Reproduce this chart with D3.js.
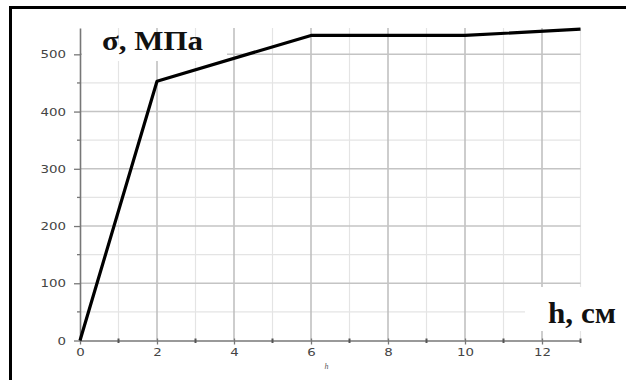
<!DOCTYPE html>
<html>
<head>
<meta charset="utf-8">
<script src="https://cdn.jsdelivr.net/npm/d3@7"></script>
<style>
  body { margin: 0; background: #fff; }
  svg { display: block; }
</style>
</head>
<body>
<div id="chart_container"></div>
<script>
// chart values
const H_VALUES = [0, 2, 6, 10, 13];
const SIGMA_VALUES = [0, 453, 533, 533, 544];
const X_TICKS = [0, 2, 4, 6, 8, 10, 12];
const X_MINOR = [1, 3, 5, 7, 9, 11, 13];
const Y_TICKS = [0, 100, 200, 300, 400, 500];
const Y_MINOR = [50, 150, 250, 350, 450];

const WIDTH = 626;
const HEIGHT = 380;

const svg = d3
  .select("#chart_container")
  .append("svg")
  .attr("width", WIDTH)
  .attr("height", HEIGHT);

const x = d3.scaleLinear().domain([0, 13]).range([80, 580.5]);
const y = d3.scaleLinear().domain([0, 546]).range([340.5, 28]);

// grid, minor first then major
const grid = svg.append("g");
grid
  .selectAll(".vminor")
  .data(X_MINOR)
  .enter()
  .append("line")
  .attr("x1", (d) => x(d))
  .attr("x2", (d) => x(d))
  .attr("y1", y(0))
  .attr("y2", y(546))
  .attr("stroke", "#e4e4e4")
  .attr("stroke-width", 1.2);
grid
  .selectAll(".hminor")
  .data(Y_MINOR)
  .enter()
  .append("line")
  .attr("x1", x(0))
  .attr("x2", x(13))
  .attr("y1", (d) => y(d))
  .attr("y2", (d) => y(d))
  .attr("stroke", "#e4e4e4")
  .attr("stroke-width", 1.2);
grid
  .selectAll(".vmajor")
  .data(X_TICKS.slice(1))
  .enter()
  .append("line")
  .attr("x1", (d) => x(d))
  .attr("x2", (d) => x(d))
  .attr("y1", y(0))
  .attr("y2", y(546))
  .attr("stroke", "#bcbcbc")
  .attr("stroke-width", 1.5);
grid
  .selectAll(".hmajor")
  .data(Y_TICKS.slice(1))
  .enter()
  .append("line")
  .attr("x1", x(0))
  .attr("x2", x(13))
  .attr("y1", (d) => y(d))
  .attr("y2", (d) => y(d))
  .attr("stroke", "#c4c4c4")
  .attr("stroke-width", 1.5);

// axes
const xAxis = svg
  .append("g")
  .attr("transform", `translate(0,${y(0)})`)
  .call(d3.axisBottom(x).tickValues(X_TICKS).tickSize(4).tickSizeOuter(0));
const yAxis = svg
  .append("g")
  .attr("transform", `translate(${x(0)},0)`)
  .call(d3.axisLeft(y).tickValues(Y_TICKS).tickSize(6).tickSizeOuter(0));

[xAxis, yAxis].forEach((ax) => {
  ax.select(".domain").attr("stroke", "#777").attr("stroke-width", 1.6);
  ax.selectAll(".tick line").attr("stroke", "#777").attr("stroke-width", 1.3);
  ax.selectAll(".tick text")
    .attr("fill", "#444")
    .style("font-family", "DejaVu Sans")
    .style("font-size", "11px")
    .attr("lengthAdjust", "spacingAndGlyphs")
    .attr("textLength", (d) => String(d).length * 8.5);
});
xAxis.selectAll(".tick line").attr("y1", -2);
xAxis.selectAll(".tick text").attr("y", 8);
yAxis.selectAll(".tick text").attr("x", -14);

// minor ticks
svg
  .append("g")
  .selectAll("line")
  .data(X_MINOR)
  .enter()
  .append("line")
  .attr("x1", (d) => x(d))
  .attr("x2", (d) => x(d))
  .attr("y1", y(0) - 2)
  .attr("y2", y(0) + 2.5)
  .attr("stroke", "#555")
  .attr("stroke-width", 2);
svg
  .append("g")
  .selectAll("line")
  .data(Y_MINOR)
  .enter()
  .append("line")
  .attr("x1", x(0) - 3)
  .attr("x2", x(0) + 1)
  .attr("y1", (d) => y(d))
  .attr("y2", (d) => y(d))
  .attr("stroke", "#777")
  .attr("stroke-width", 1.3);

// tiny axis name under the ticks
svg
  .append("text")
  .attr("x", x(6.4))
  .attr("y", 369)
  .attr("text-anchor", "middle")
  .style("font-family", "Liberation Serif")
  .style("font-style", "italic")
  .style("font-size", "8px")
  .attr("fill", "#555")
  .text("h");

// labels with white patches behind them
svg.append("rect")
  .attr("x", 82).attr("y", 45).attr("width", 145).attr("height", 16)
  .attr("fill", "#fff");
svg.append("text")
  .attr("x", 102)
  .attr("y", 50)
  .style("font-family", "Liberation Serif")
  .style("font-weight", "bold")
  .style("font-size", "27px")
  .attr("lengthAdjust", "spacingAndGlyphs")
  .attr("textLength", 101)
  .attr("fill", "#111")
  .text("σ, МПа");

svg.append("rect")
  .attr("x", 525).attr("y", 287).attr("width", 101).attr("height", 44)
  .attr("fill", "#fff");
svg.append("text")
  .attr("x", 548)
  .attr("y", 323)
  .style("font-family", "Liberation Serif")
  .style("font-weight", "bold")
  .style("font-size", "29px")
  .attr("lengthAdjust", "spacingAndGlyphs")
  .attr("textLength", 68)
  .attr("fill", "#111")
  .text("h, см");

// the curve, on top of everything
const points = H_VALUES.map((h, i) => ({ h, s: SIGMA_VALUES[i] }));
svg
  .append("path")
  .datum(points)
  .attr("fill", "none")
  .attr("stroke", "#000")
  .attr("stroke-width", 3.2)
  .attr("stroke-linejoin", "round")
  .attr("d", d3.line().x((d) => x(d.h)).y((d) => y(d.s)));

// frame (top and left only are visible)
svg.append("line")
  .attr("x1", 9).attr("x2", WIDTH).attr("y1", 7.5).attr("y2", 7.5)
  .attr("stroke", "#000").attr("stroke-width", 3);
svg.append("line")
  .attr("x1", 10.5).attr("x2", 10.5).attr("y1", 6).attr("y2", HEIGHT)
  .attr("stroke", "#000").attr("stroke-width", 3);
</script>
</body>
</html>
